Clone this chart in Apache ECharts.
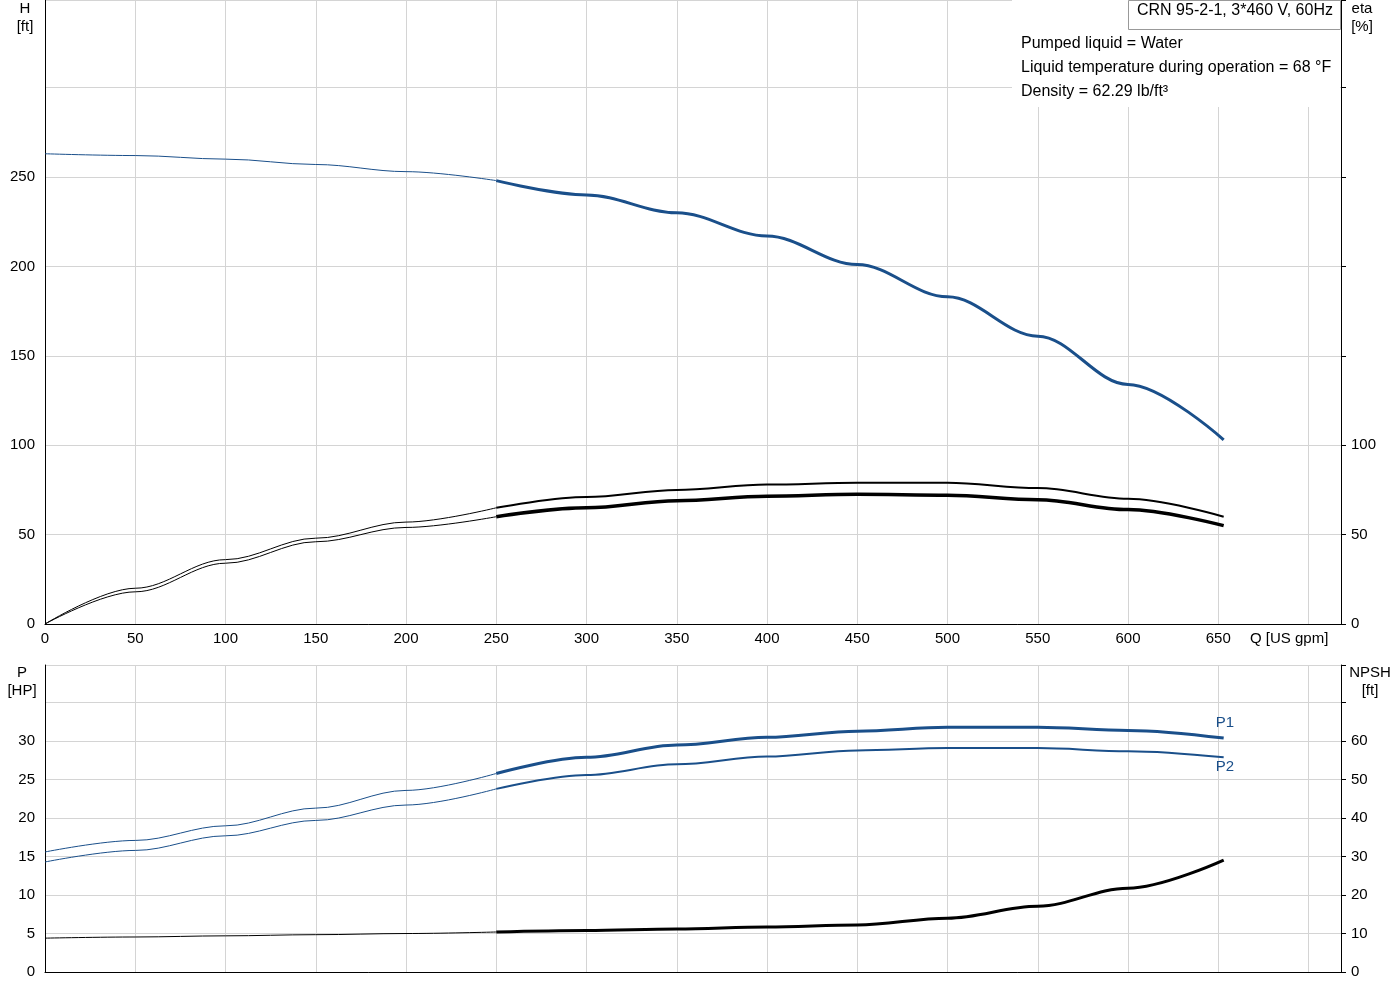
<!DOCTYPE html>
<html><head><meta charset="utf-8">
<script src="https://cdn.jsdelivr.net/npm/echarts@6/dist/echarts.min.js"></script>
<style>html,body{margin:0;background:#fff}#c{width:1400px;height:1000px}</style>
</head><body><div id="c"></div>
<script>
const flowQ = [0,50,100,150,200,250,300,350,400,450,500,550,600,653];
const headH = [263,262,260,257,253,248,240,230,217,201,183,161,134,103];
const etaUpper = [0,20,36,48,57,65,71,75,78,79,79,76,70,60];
const etaLower = [0,18,34,46,54,60,65,69,71.5,72.5,72,69.5,64,55];
const powerP1 = [15.6,17.1,19,21.3,23.6,25.8,27.9,29.5,30.5,31.3,31.8,31.8,31.4,30.4];
const powerP2 = [14.3,15.8,17.7,19.7,21.7,23.8,25.6,27,28,28.8,29.1,29.1,28.7,27.9];
const npsh = [8.8,9.1,9.4,9.7,10,10.4,10.8,11.2,11.7,12.2,14,17.1,21.8,29.1];
const SPLIT = 250;

const BLUE = '#1a4f8a', FONT = 'Arial, "Liberation Sans", sans-serif';
function part(ys, thick){
  return flowQ.map((q,i)=>[q,ys[i]]).filter(p => thick ? p[0]>=SPLIT : p[0]<=SPLIT);
}
function pair(ys, color, wThin, wThick, xi, yi, extra){
  const base = {type:'line', xAxisIndex:xi, yAxisIndex:yi, smooth:0.35, smoothMonotone:'x', symbol:'none', silent:true};
  return [
    Object.assign({}, base, {data:part(ys,false), lineStyle:{color, width:wThin}}),
    Object.assign({}, base, {data:part(ys,true), lineStyle:{color, width:wThick}}, extra||{})
  ];
}
const gridLine = {show:true, lineStyle:{color:'#d4d4d4', width:1}};
const lbl = {color:'#000', fontFamily:FONT, fontSize:15};
const xCommon = {type:'value', min:0, max:718, interval:50, splitLine:gridLine,
  axisLine:{lineStyle:{color:'#000'}}, axisTick:{show:false}};
const ch = echarts.init(document.getElementById('c'));
ch.setOption({
  animation:false,
  grid:[{left:45,right:59,top:0,height:624},{left:45,right:59,top:665,height:307}],
  xAxis:[
    Object.assign({gridIndex:0, axisLabel:Object.assign({formatter:v=>v>650?'':v, margin:7},lbl)}, xCommon),
    Object.assign({gridIndex:1, axisLabel:{show:false}}, xCommon)
  ],
  yAxis:[
    {gridIndex:0, type:'value', min:0, max:349, interval:50, splitLine:gridLine,
     axisLine:{show:true,lineStyle:{color:'#000'}}, axisTick:{show:false},
     axisLabel:Object.assign({formatter:v=>v>250?'':v, margin:10},lbl)},
    {gridIndex:0, type:'value', position:'right', min:0, max:349, interval:50, splitLine:{show:false},
     axisLine:{show:true,lineStyle:{color:'#000'}}, axisTick:{show:true,length:5},
     axisLabel:Object.assign({formatter:v=>v>100?'':v, margin:10},lbl)},
    {gridIndex:1, type:'value', min:0, max:39.9, interval:5, splitLine:gridLine,
     axisLine:{show:true,lineStyle:{color:'#000'}}, axisTick:{show:false},
     axisLabel:Object.assign({formatter:v=>v>30?'':v, margin:10},lbl)},
    {gridIndex:1, type:'value', position:'right', min:0, max:79.8, interval:10, splitLine:{show:false},
     axisLine:{show:true,lineStyle:{color:'#000'}}, axisTick:{show:true,length:5},
     axisLabel:Object.assign({formatter:v=>v>60?'':v, margin:10},lbl)}
  ],
  series:[].concat(
    pair(headH, BLUE, 1, 3, 0, 0),
    pair(etaUpper, '#000', 1, 2, 0, 1),
    pair(etaLower, '#000', 1, 3.5, 0, 1),
    pair(powerP1, BLUE, 1, 3, 1, 2, {endLabel:{show:true, formatter:'P1', color:BLUE, fontFamily:FONT, fontSize:15, offset:[-16,-15]}}),
    pair(powerP2, BLUE, 1, 2, 1, 2, {endLabel:{show:true, formatter:'P2', color:BLUE, fontFamily:FONT, fontSize:15, offset:[-16,10]}}),
    pair(npsh, '#000', 1, 3, 1, 3)
  ),
  graphic:[
    {type:'rect', shape:{x:1012,y:0,width:328,height:107}, style:{fill:'#fff'}, z:10},
    {type:'rect', shape:{x:1128.5,y:0.5,width:212,height:29}, style:{fill:'#fff',stroke:'#999',lineWidth:1}, z:11},
    {type:'text', x:1137, y:3, style:{text:'CRN 95-2-1, 3*460 V, 60Hz', font:'16px '+FONT, fill:'#000'}, z:12},
    {type:'text', x:1021, y:36, style:{text:'Pumped liquid = Water', font:'16px '+FONT, fill:'#000'}, z:12},
    {type:'text', x:1021, y:60, style:{text:'Liquid temperature during operation = 68 °F', font:'16px '+FONT, fill:'#000'}, z:12},
    {type:'text', x:1021, y:84, style:{text:'Density = 62.29 lb/ft³', font:'16px '+FONT, fill:'#000'}, z:12},
    {type:'text', x:25, y:0, style:{text:'H\n[ft]', font:'15px '+FONT, fill:'#000', align:'center', lineHeight:18}, z:12},
    {type:'text', x:1362, y:0, style:{text:'eta\n[%]', font:'15px '+FONT, fill:'#000', align:'center', lineHeight:18}, z:12},
    {type:'text', x:1250, y:631, style:{text:'Q [US gpm]', font:'15px '+FONT, fill:'#000'}, z:12},
    {type:'text', x:22, y:664, style:{text:'P\n[HP]', font:'15px '+FONT, fill:'#000', align:'center', lineHeight:18}, z:12},
    {type:'text', x:1370, y:664, style:{text:'NPSH\n[ft]', font:'15px '+FONT, fill:'#000', align:'center', lineHeight:18}, z:12}
  ]
});
</script></body></html>
